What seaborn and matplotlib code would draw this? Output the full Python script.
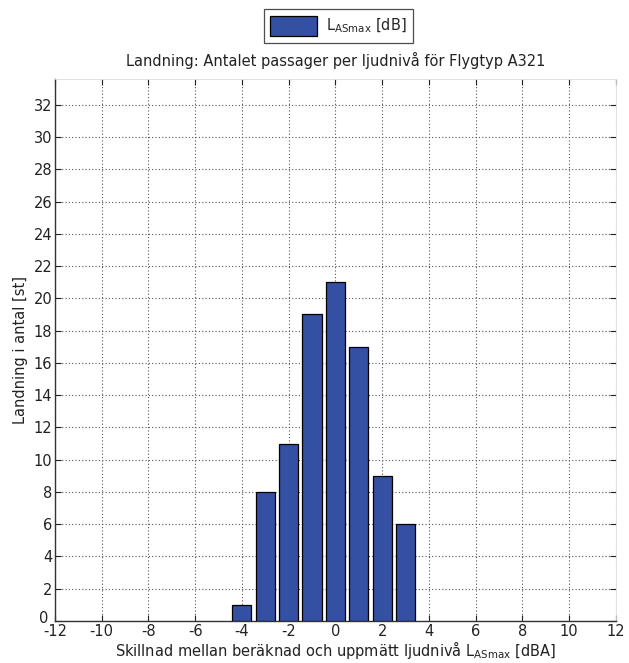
import matplotlib
matplotlib.use("Agg")
import matplotlib.pyplot as plt
import matplotlib.transforms as mtransforms
import seaborn as sns
import pandas as pd

# Difference between computed and measured level (dBA) and number of landings
diff_dba = [-4, -3, -2, -1, 0, 1, 2, 3]
landings = [1, 8, 11, 19, 21, 17, 9, 6]
x_ticks = list(range(-12, 13, 2))
y_ticks = list(range(0, 33, 2))

title = "Landning: Antalet passager per ljudnivå för Flygtyp A321"
xlabel = "Skillnad mellan beräknad och uppmätt ljudnivå L$_{\\mathrm{ASmax}}$ [dBA]"
ylabel = "Landning i antal [st]"
legend_label = "L$_{\\mathrm{ASmax}}$ [dB]"

sns.set_theme(style="white")
plt.rcParams["font.family"] = ["DejaVu Sans"]
plt.rcParams["mathtext.fontset"] = "dejavusans"

df = pd.DataFrame({"diff": diff_dba, "n": landings})

fig = plt.figure(figsize=(6.29, 6.63), dpi=100)
ax = fig.add_axes([0.0874, 0.0633, 0.8916, 0.8177])

sns.barplot(data=df, x="diff", y="n", native_scale=True, width=0.82,
            color="#3350a3", saturation=1, edgecolor="black", linewidth=0.9,
            label=legend_label, ax=ax, zorder=3)

ax.set_xlim(-12, 12)
ax.set_ylim(0, 33.6)
ax.set_xticks(x_ticks)
ax.set_yticks(y_ticks)
ax.set_xticklabels([str(t) for t in x_ticks])
ax.grid(True, linestyle=(0, (1, 2)), color="#555555", linewidth=0.8, zorder=0)
ax.set_axisbelow(True)

ax.tick_params(direction="in", length=4, width=0.8, colors="#222222",
               labelsize=10.5, top=True, right=True, bottom=True, left=True,
               labelcolor="#222222", pad=2)
for side in ["left", "bottom"]:
    ax.spines[side].set_color("#333333")
    ax.spines[side].set_linewidth(1.0)
for side in ["top", "right"]:
    ax.spines[side].set_color("#dddddd")
    ax.spines[side].set_linewidth(0.6)

# lift the "0" y label a little so it sits clear of the "-12" x label
fig.canvas.draw()
zero_label = ax.get_yticklabels()[0]
zero_label.set_transform(zero_label.get_transform() +
                         mtransforms.ScaledTranslation(-0.04, 0.04, fig.dpi_scale_trans))

ax.set_title(title, fontsize=10.5, color="#222222", pad=9)
ax.set_xlabel(xlabel, fontsize=10.5, color="#222222", labelpad=0)
ax.set_ylabel(ylabel, fontsize=10.5, color="#222222", labelpad=4)

leg = ax.legend(loc="lower center", bbox_to_anchor=(0.505, 1.053), fontsize=10.5,
                frameon=True, fancybox=False, edgecolor="#222222",
                handlelength=3.2, handleheight=1.8, borderpad=0.45,
                handletextpad=0.6)
leg.get_frame().set_linewidth(0.9)

fig.savefig("out.png", dpi=100, facecolor="white")
